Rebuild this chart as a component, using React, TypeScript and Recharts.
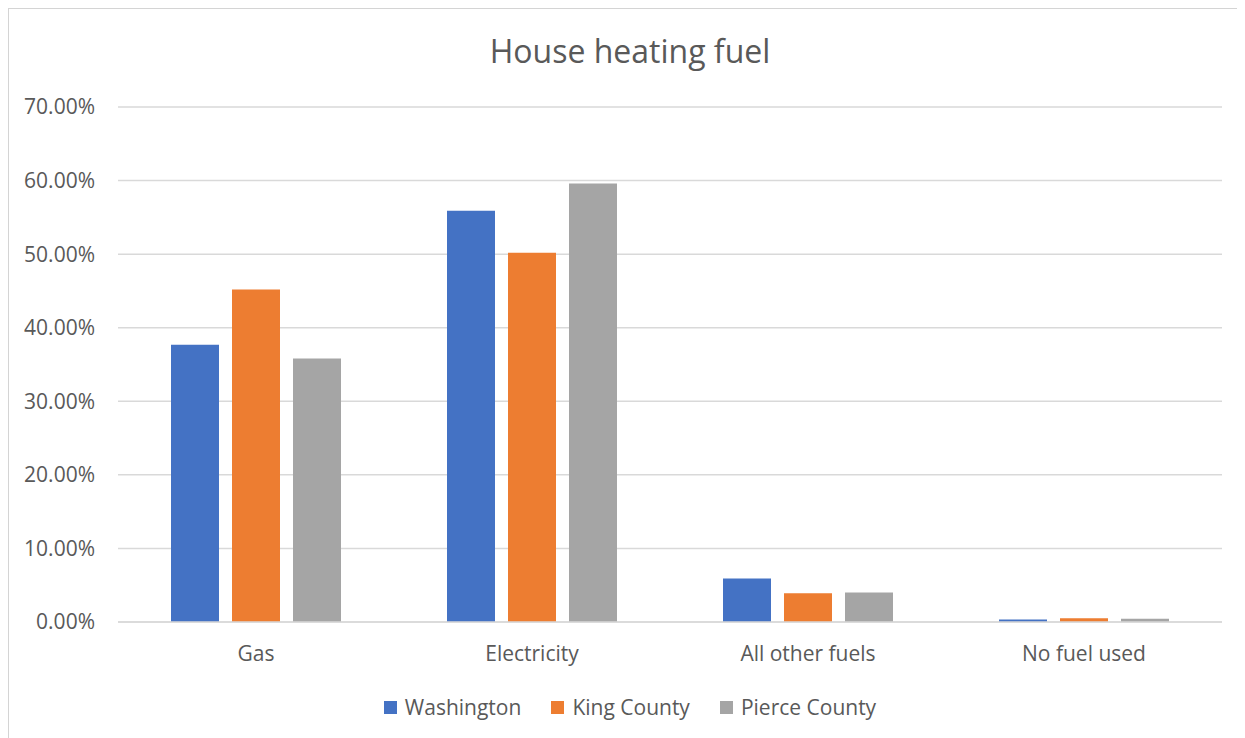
import React from "react";
import { Bar, BarChart, CartesianGrid, Legend, XAxis, YAxis } from "recharts";

// values, in percent
const categories = ["Gas", "Electricity", "All other fuels", "No fuel used"];
const washington = [37.7, 55.9, 5.9, 0.33];
const kingCounty = [45.2, 50.2, 3.9, 0.5];
const pierceCounty = [35.8, 59.6, 4.0, 0.45];
const yTicks = [0, 10, 20, 30, 40, 50, 60, 70];

const SERIES = [
  { key: "washington", name: "Washington", color: "#4472C4" },
  { key: "king", name: "King County", color: "#ED7D31" },
  { key: "pierce", name: "Pierce County", color: "#A5A5A5" },
];

const FONT = "'Open Sans', sans-serif";
const TEXT = "#595959";
const GRID = "#D9D9D9";

const data = categories.map((name, i) => ({
  name,
  washington: washington[i],
  king: kingCounty[i],
  pierce: pierceCounty[i],
}));

const renderLegend = () => (
  <div
    style={{
      display: "flex",
      justifyContent: "center",
      height: 24,
      lineHeight: "24px",
      fontFamily: FONT,
      fontSize: 21,
      color: TEXT,
      paddingLeft: 30,
    }}
  >
    {SERIES.map((s, i) => (
      <div
        key={s.key}
        style={{ display: "flex", alignItems: "center", marginLeft: i ? 30 : 0 }}
      >
        <span
          style={{ width: 13, height: 13, background: s.color, marginRight: 8 }}
        />
        <span>{s.name}</span>
      </div>
    ))}
  </div>
);

const App = () => {
  return (
    <div style={{ position: "relative", width: 1237, height: 730 }}>
      <div
        style={{
          position: "absolute",
          top: 27,
          left: 0,
          width: 1244,
          textAlign: "center",
          fontFamily: FONT,
          fontSize: 32,
          lineHeight: "32px",
          color: TEXT,
        }}
      >
        House heating fuel
      </div>
      <BarChart
        width={1237}
        height={730}
        data={data}
        margin={{ top: 99, right: 23, left: 0, bottom: 19 }}
        barSize={48}
        barGap={13}
      >
        <CartesianGrid vertical={false} stroke={GRID} strokeWidth={1.5} />
        <XAxis
          dataKey="name"
          height={73}
          tickLine={false}
          tickSize={0}
          tickMargin={24}
          axisLine={{ stroke: GRID, strokeWidth: 1.5 }}
          tick={{ fill: TEXT, fontSize: 21, fontFamily: FONT }}
        />
        <YAxis
          width={110}
          domain={[0, 70]}
          ticks={yTicks}
          interval={0}
          tickLine={false}
          tickSize={0}
          tickMargin={23}
          axisLine={false}
          tickFormatter={(v: number) => `${v.toFixed(2)}%`}
          tick={{ fill: TEXT, fontSize: 21, fontFamily: FONT }}
        />
        <Legend verticalAlign="bottom" content={renderLegend} />
        {SERIES.map((s) => (
          <Bar
            key={s.key}
            dataKey={s.key}
            name={s.name}
            fill={s.color}
            isAnimationActive={false}
          />
        ))}
      </BarChart>
      {/* chart-area frame, only its left and top edges are inside the picture */}
      <div
        style={{
          position: "absolute",
          left: -1,
          top: -1,
          width: 1238,
          height: 731,
          borderLeft: "2px solid #D4D4D4",
          borderTop: "2px solid #D4D4D4",
          boxSizing: "border-box",
          pointerEvents: "none",
          zIndex: 5,
        }}
      />
    </div>
  );
};

export default App;
